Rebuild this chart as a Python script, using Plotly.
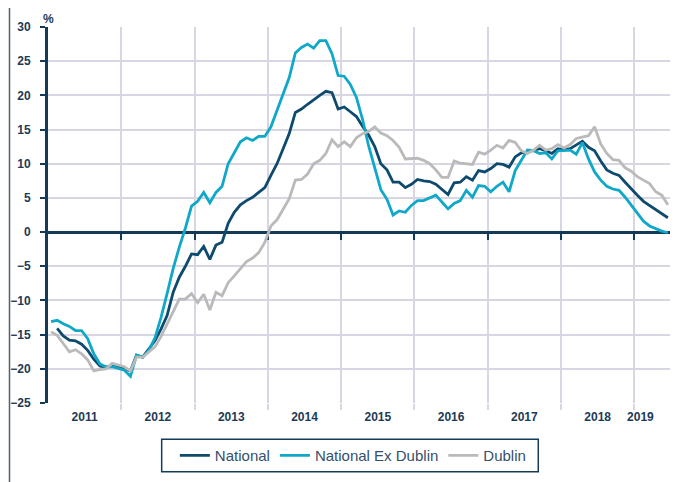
import plotly.graph_objects as go

# ---------------- data ----------------
months = [f"{y}-{m:02d}" for y in range(2011, 2020) for m in range(1, 13)][:102]  # Jan 2011 - Jun 2019
year_labels = ["2011", "2012", "2013", "2014", "2015", "2016", "2017", "2018", "2019"]
y_ticks = [30, 25, 20, 15, 10, 5, 0, -5, -10, -15, -20, -25]

# National (starts Feb 2011)
national = [
    -14.1, -15.2, -15.8, -15.9, -16.4, -17.3, -18.6, -19.6, -19.8, -19.5, -19.6,
    -20.0, -20.3, -18.0, -18.3, -17.1, -15.9, -14.2, -12.2, -8.8, -6.6, -5.0, -3.2,
    -3.3, -2.1, -4.0, -1.9, -1.5, 1.3, 2.9, 4.0, 4.6, 5.1, 5.8, 6.5,
    8.3, 10.0, 12.2, 14.4, 17.5, 18.0, 18.7, 19.4, 20.0, 20.6, 20.4, 18.0,
    18.3, 17.6, 16.9, 15.5, 14.2, 12.5, 10.0, 9.1, 7.3, 7.3, 6.5, 7.0,
    7.7, 7.5, 7.4, 7.0, 6.2, 5.5, 7.2, 7.3, 8.1, 7.6, 9.0, 8.8,
    9.3, 10.0, 9.9, 9.5, 11.0, 11.6, 11.7, 12.0, 12.2, 11.9, 11.5, 12.2,
    12.0, 12.2, 12.7, 13.3, 12.4, 11.9, 10.4, 9.1, 8.6, 8.3, 7.3, 6.3,
    5.4, 4.5, 3.9, 3.2, 2.7, 2.1,
]

# National Ex Dublin (Jan 2011 - Jun 2019)
ex_dublin = [
    -13.1, -12.9, -13.4, -13.8, -14.4, -14.4, -15.6, -17.8, -19.3, -19.7, -19.7, -19.9,
    -20.2, -21.1, -18.0, -18.3, -17.3, -15.5, -12.5, -9.0, -5.3, -2.2, 0.6, 3.8,
    4.5, 5.8, 4.3, 5.8, 6.7, 10.0, 11.7, 13.2, 13.8, 13.4, 14.0, 14.0,
    15.4, 17.8, 20.4, 22.6, 26.2, 27.0, 27.5, 26.9, 28.0, 28.0, 26.1, 22.9,
    22.8, 21.6, 19.7, 16.5, 12.6, 9.3, 6.2, 4.8, 2.5, 3.1, 2.9, 3.9,
    4.6, 4.6, 5.0, 5.4, 4.4, 3.4, 4.2, 4.6, 6.1, 5.1, 6.8, 6.7,
    5.9, 6.7, 7.3, 5.9, 9.0, 10.6, 12.0, 11.9, 11.5, 11.6, 10.7, 11.9,
    11.9, 12.0, 11.4, 13.1, 10.7, 8.8, 7.6, 6.7, 6.3, 6.1, 5.1, 3.9,
    2.7, 1.6, 0.9, 0.5, 0.15, -0.1,
]

# Dublin (Jan 2011 - Jun 2019)
dublin = [
    -14.6, -15.1, -16.3, -17.5, -17.2, -17.8, -18.7, -20.3, -20.1, -20.0, -19.2, -19.4,
    -19.7, -20.3, -18.3, -18.3, -17.5, -16.8, -15.3, -13.4, -11.7, -9.8, -9.8, -9.0,
    -10.3, -9.1, -11.4, -8.8, -9.3, -7.4, -6.4, -5.3, -4.3, -3.8, -3.0, -1.5,
    0.9, 1.8, 3.4, 4.9, 7.6, 7.7, 8.5, 10.0, 10.5, 11.5, 13.5, 12.5,
    13.2, 12.5, 13.8, 14.4, 14.7, 15.4, 14.5, 14.1, 13.4, 12.4, 10.7, 10.7,
    10.8, 10.5, 10.0, 9.1, 8.0, 8.0, 10.4, 10.1, 10.0, 9.9, 11.7, 11.4,
    12.0, 12.7, 12.3, 13.4, 13.1, 11.9, 11.5, 12.0, 12.7, 12.0, 12.2, 12.8,
    12.3, 12.8, 13.7, 13.9, 14.1, 15.4, 12.9, 11.5, 10.6, 10.5, 9.4, 8.9,
    8.1, 7.6, 7.1, 5.9, 5.4, 4.0,
]

# ---------------- styling ----------------
NAVY = "#0d4a6d"
CYAN = "#10a8c9"
GREY = "#bababa"
AXIS = "#143a5a"
GRID = "#d8d6e3"
TXT = "#1d3a56"
LEG_TXT = "#34506b"

n_months = len(months)
x_all = [i + 0.5 for i in range(n_months)]          # mid-month positions
x_nat = x_all[n_months - len(national):]
x_end = n_months + 0.5

year_bounds = [12 * k for k in range(1, len(year_labels))]
label_pos = [12 * k + 6 for k in range(len(year_labels) - 1)] + [12 * (len(year_labels) - 1) + 1]

fig = go.Figure()
fig.add_trace(go.Scatter(x=x_nat, y=national, mode="lines", name="National",
                         line=dict(color=NAVY, width=2.8)))
fig.add_trace(go.Scatter(x=x_all, y=ex_dublin, mode="lines", name="National Ex Dublin",
                         line=dict(color=CYAN, width=2.8)))
fig.add_trace(go.Scatter(x=x_all, y=dublin, mode="lines", name="Dublin",
                         line=dict(color=GREY, width=2.8)))
# helper (empty) trace so the zero-line axis is created
fig.add_trace(go.Scatter(x=[None], y=[None], xaxis="x2", showlegend=False, hoverinfo="skip"))

# page body has an 8px default margin, so the figure is 8px smaller each way
fig.update_layout(
    width=670, height=474,
    margin=dict(l=40, r=4, t=19, b=79, autoexpand=False),
    paper_bgcolor="white", plot_bgcolor="white",
    font=dict(family="Liberation Sans, Arial, sans-serif"),
    xaxis=dict(
        range=[0, x_end], showline=False, zeroline=False, showgrid=False,
        tickmode="array", tickvals=label_pos, ticktext=year_labels,
        ticks="outside", ticklen=3, tickcolor="rgba(0,0,0,0)",
        tickfont=dict(size=12, color=TXT, weight="bold"),
        minor=dict(tickmode="array", tickvals=year_bounds + [x_end - 0.05],
                   ticks="outside", ticklen=6, tickwidth=1.5, tickcolor=GRID,
                   showgrid=True, gridcolor=GRID, gridwidth=1.5),
        automargin=False, fixedrange=True,
    ),
    xaxis2=dict(
        overlaying="x", anchor="free", position=25 / 55, side="bottom",
        range=[0, x_end], showline=True, linecolor=AXIS, linewidth=3,
        ticks="outside", ticklen=6, tickwidth=2, tickcolor=AXIS,
        tickmode="array", tickvals=year_bounds + [x_end - 0.05],
        showticklabels=False, showgrid=False, zeroline=False,
        layer="below traces", automargin=False,
    ),
    yaxis=dict(
        range=[-25, 30], tickmode="array", tickvals=y_ticks,
        showline=True, linecolor=AXIS, linewidth=3,
        ticks="outside", ticklen=5, tickwidth=2, tickcolor=AXIS,
        tickfont=dict(size=12, color=TXT, weight="bold"),
        showgrid=True, gridcolor=GRID, gridwidth=1.5, zeroline=False,
        ticklabelstandoff=7, automargin=False,
    ),
    legend=dict(
        orientation="h", x=0.487, xanchor="center", y=-0.140, yanchor="middle",
        borderwidth=0, bgcolor="rgba(0,0,0,0)",
        font=dict(size=15, color=LEG_TXT), itemwidth=30,
    ),
    annotations=[dict(text="%", x=0, y=1.046, xref="paper", yref="paper",
                      xanchor="center", yanchor="top", showarrow=False,
                      font=dict(size=12, color=TXT, weight="bold"))],
    shapes=[
        # legend frame
        dict(type="rect", xref="paper", yref="paper",
             x0=0.1816, x1=0.7832, y0=-0.1827, y1=-0.0965,
             line=dict(color=AXIS, width=1.5), fillcolor="white", layer="below"),
        # outer left frame
        dict(type="line", xref="paper", yref="paper",
             x0=-0.0615, x1=-0.0615, y0=-0.215, y1=1.06,
             line=dict(color="#4d6275", width=1.5)),
        # right plot border
        dict(type="line", xref="paper", yref="paper",
             x0=1, x1=1, y0=0, y1=1, line=dict(color=GRID, width=1.5)),
    ],
)

fig.write_html("out.html")
